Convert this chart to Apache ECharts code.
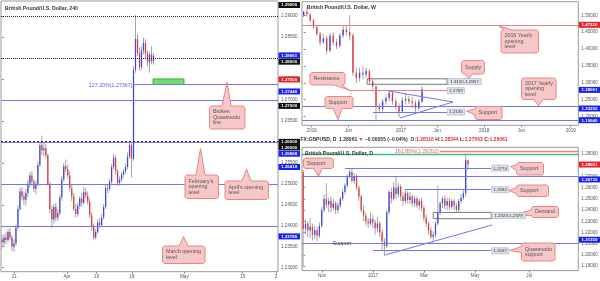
<!DOCTYPE html>
<html><head><meta charset="utf-8">
<script src="https://cdn.jsdelivr.net/npm/echarts@6/dist/echarts.min.js"></script>
<style>html,body{margin:0;padding:0;background:#fff}#c{width:600px;height:281px}</style>
</head><body><div id="c"></div><script>
// ---------- DATA ----------
// 4-hour candles [open, close, low, high]
const h4Candles = [
[1.2368,1.2360,1.2345,1.2378],[1.2360,1.2372,1.2350,1.2380],[1.2372,1.2366,1.2356,1.2385],[1.2366,1.2385,1.2360,1.2392],
[1.2385,1.2372,1.2365,1.2395],[1.2372,1.2350,1.2340,1.2378],[1.2350,1.2358,1.2338,1.2368],[1.2358,1.2395,1.2352,1.2402],
[1.2395,1.2440,1.2390,1.2448],[1.2440,1.2482,1.2435,1.2490],[1.2482,1.2470,1.2460,1.2492],[1.2470,1.2462,1.2450,1.2480],
[1.2462,1.2478,1.2448,1.2488],[1.2478,1.2500,1.2470,1.2510],[1.2500,1.2520,1.2490,1.2528],[1.2520,1.2505,1.2495,1.2530],
[1.2505,1.2488,1.2480,1.2512],[1.2488,1.2500,1.2475,1.2508],[1.2500,1.2545,1.2495,1.2552],[1.2545,1.2592,1.2540,1.2600],
[1.2592,1.2580,1.2568,1.2615],[1.2580,1.2585,1.2565,1.2598],[1.2585,1.2568,1.2560,1.2595],[1.2568,1.2500,1.2495,1.2572],
[1.2500,1.2440,1.2430,1.2505],[1.2440,1.2415,1.2395,1.2448],[1.2415,1.2445,1.2405,1.2452],[1.2445,1.2420,1.2410,1.2455],
[1.2420,1.2430,1.2412,1.2440],[1.2430,1.2468,1.2425,1.2475],[1.2468,1.2510,1.2460,1.2518],[1.2510,1.2542,1.2505,1.2550],
[1.2542,1.2535,1.2528,1.2558],[1.2535,1.2520,1.2512,1.2545],[1.2520,1.2490,1.2482,1.2530],[1.2490,1.2470,1.2458,1.2498],
[1.2470,1.2440,1.2435,1.2478],[1.2440,1.2428,1.2420,1.2452],[1.2428,1.2448,1.2422,1.2455],[1.2448,1.2465,1.2440,1.2470],
[1.2465,1.2455,1.2445,1.2478],[1.2455,1.2480,1.2450,1.2492],[1.2480,1.2472,1.2465,1.2490],[1.2472,1.2458,1.2450,1.2482],
[1.2458,1.2425,1.2418,1.2465],[1.2425,1.2398,1.2388,1.2432],[1.2398,1.2372,1.2365,1.2405],[1.2372,1.2385,1.2368,1.2392],
[1.2385,1.2408,1.2380,1.2415],[1.2408,1.2402,1.2395,1.2418],[1.2402,1.2420,1.2398,1.2428],[1.2420,1.2445,1.2415,1.2452],
[1.2445,1.2490,1.2440,1.2498],[1.2490,1.2488,1.2478,1.2500],[1.2488,1.2505,1.2482,1.2512],[1.2505,1.2540,1.2500,1.2548],
[1.2540,1.2562,1.2535,1.2572],[1.2562,1.2530,1.2522,1.2568],[1.2530,1.2502,1.2495,1.2535],[1.2502,1.2510,1.2496,1.2518],
[1.2510,1.2522,1.2505,1.2528],[1.2522,1.2530,1.2515,1.2536],[1.2530,1.2540,1.2525,1.2548],[1.2540,1.2565,1.2535,1.2575],
[1.2565,1.2592,1.2560,1.2600],[1.2592,1.2560,1.2515,1.2596],[1.2560,1.2772,1.2555,1.2780],[1.2772,1.2845,1.2765,1.2902],
[1.2845,1.2812,1.2805,1.2858],[1.2812,1.2778,1.2770,1.2825],[1.2778,1.2818,1.2772,1.2828],[1.2818,1.2836,1.2808,1.2848],
[1.2836,1.2810,1.2800,1.2845],[1.2810,1.2790,1.2780,1.2818],[1.2790,1.2808,1.2765,1.2815],[1.2808,1.2792,1.2785,1.2828],
[1.2792,1.2806,1.2784,1.2812]
];
const h4Slots = 139;
const h4TickPos = [6.2, 32.6, 47.5, 65.2, 91.5, 120.8, 137.5];
const h4TickText = ['21','Apr','10','18','May','15','2'];
const h4PriceTicks = [1.230,1.235,1.240,1.245,1.250,1.255,1.260,1.265,1.270,1.275,1.280,1.285,1.290];

// weekly chart, two weeks per candle [open, close, low, high]
const wCandles = [
[1.500,1.510,1.494,1.514],[1.510,1.502,1.496,1.523],[1.502,1.485,1.480,1.506],[1.485,1.465,1.460,1.489],
[1.465,1.445,1.438,1.468],[1.445,1.420,1.410,1.450],[1.420,1.432,1.415,1.445],[1.432,1.395,1.385,1.440],
[1.395,1.440,1.390,1.448],[1.440,1.420,1.410,1.450],[1.420,1.410,1.400,1.430],[1.410,1.440,1.405,1.448],
[1.440,1.458,1.432,1.468],[1.458,1.450,1.440,1.470],[1.450,1.440,1.425,1.500],[1.440,1.330,1.320,1.445],
[1.330,1.315,1.300,1.345],[1.315,1.330,1.305,1.345],[1.330,1.325,1.310,1.350],[1.325,1.335,1.315,1.345],
[1.335,1.305,1.295,1.340],[1.305,1.290,1.280,1.312],[1.290,1.230,1.185,1.292],[1.230,1.222,1.210,1.240],
[1.222,1.245,1.215,1.252],[1.245,1.255,1.235,1.265],[1.255,1.270,1.245,1.278],[1.270,1.245,1.235,1.275],
[1.245,1.230,1.220,1.255],[1.230,1.215,1.198,1.240],[1.215,1.248,1.210,1.258],[1.248,1.252,1.235,1.270],
[1.252,1.245,1.238,1.262],[1.245,1.240,1.225,1.258],[1.240,1.225,1.210,1.248],[1.225,1.245,1.218,1.252],
[1.245,1.281,1.240,1.290]
];
const wSlots = 84;
const wTickPos = [2.45, 13.6, 29.6, 40.6, 54.9, 66.2, 81.2];
const wTickText = ['2016','Jun','2017','Jun','2018','Jun','2019'];
const wPriceTicks = [1.20,1.25,1.30,1.35,1.40,1.45,1.50];

// daily chart, two sessions per candle [open, close, low, high]
const dCandles = [
[1.2740,1.2230,1.1900,1.2760],[1.2230,1.2280,1.2180,1.2320],[1.2280,1.2220,1.2160,1.2300],[1.2220,1.2250,1.2150,1.2330],
[1.2250,1.2180,1.2130,1.2280],[1.2180,1.2220,1.2140,1.2260],[1.2220,1.2170,1.2120,1.2250],[1.2170,1.2260,1.2150,1.2290],
[1.2260,1.2400,1.2240,1.2430],[1.2400,1.2500,1.2380,1.2540],[1.2500,1.2450,1.2420,1.2640],[1.2450,1.2480,1.2380,1.2510],
[1.2480,1.2420,1.2380,1.2520],[1.2420,1.2460,1.2400,1.2500],[1.2460,1.2400,1.2360,1.2480],[1.2400,1.2440,1.2370,1.2470],
[1.2440,1.2500,1.2420,1.2520],[1.2500,1.2560,1.2480,1.2590],[1.2560,1.2620,1.2540,1.2640],[1.2620,1.2700,1.2600,1.2720],
[1.2700,1.2740,1.2680,1.2760],[1.2740,1.2660,1.2640,1.2775],[1.2660,1.2700,1.2630,1.2730],[1.2700,1.2600,1.2580,1.2720],
[1.2600,1.2520,1.2480,1.2620],[1.2520,1.2400,1.2380,1.2540],[1.2400,1.2350,1.2300,1.2440],[1.2350,1.2300,1.2260,1.2380],
[1.2300,1.2280,1.2240,1.2330],[1.2280,1.2320,1.2260,1.2380],[1.2320,1.2290,1.2240,1.2360],[1.2290,1.2240,1.2180,1.2310],
[1.2240,1.2280,1.2200,1.2340],[1.2280,1.2200,1.2160,1.2300],[1.2200,1.2120,1.2040,1.2230],[1.2120,1.2080,1.1990,1.2150],
[1.2080,1.2380,1.2060,1.2400],[1.2380,1.2560,1.2360,1.2580],[1.2560,1.2500,1.2460,1.2600],[1.2500,1.2600,1.2480,1.2650],
[1.2600,1.2540,1.2500,1.2700],[1.2540,1.2610,1.2510,1.2640],[1.2610,1.2520,1.2480,1.2630],[1.2520,1.2480,1.2440,1.2560],
[1.2480,1.2550,1.2460,1.2580],[1.2550,1.2490,1.2460,1.2570],[1.2490,1.2520,1.2450,1.2560],[1.2520,1.2460,1.2430,1.2540],
[1.2460,1.2500,1.2430,1.2530],[1.2500,1.2440,1.2420,1.2520],[1.2440,1.2480,1.2400,1.2500],[1.2480,1.2420,1.2390,1.2510],
[1.2420,1.2330,1.2300,1.2440],[1.2330,1.2280,1.2250,1.2360],[1.2280,1.2220,1.2180,1.2300],[1.2220,1.2160,1.2140,1.2250],
[1.2160,1.2180,1.2110,1.2210],[1.2180,1.2280,1.2150,1.2300],[1.2280,1.2380,1.2260,1.2620],[1.2380,1.2460,1.2360,1.2480],
[1.2460,1.2500,1.2420,1.2520],[1.2500,1.2440,1.2410,1.2530],[1.2440,1.2480,1.2400,1.2510],[1.2480,1.2430,1.2400,1.2510],
[1.2430,1.2480,1.2410,1.2500],[1.2480,1.2440,1.2400,1.2500],[1.2440,1.2400,1.2380,1.2460],[1.2400,1.2480,1.2380,1.2500],
[1.2480,1.2510,1.2460,1.2540],[1.2510,1.2550,1.2490,1.2580],[1.2550,1.2845,1.2520,1.2905],[1.2845,1.2806,1.2760,1.2850]
];
const dSlots = 119;
const dTickPos = [8.1, 30.1, 52.1, 74.1, 97.4];
const dTickText = ['Nov','2017','Mar','May','Jul'];
const dPriceTicks = [1.19,1.20,1.21,1.22,1.23,1.24,1.25,1.26,1.27,1.28,1.29];

// ---------- STYLE ----------
const FONT = 'Liberation Sans';
const UP = '#3a45e6', DOWN = '#e5363f', WICK = '#a5a5a5';
const BLUE = '#6f76f0', RED = '#f07c7c', AXC = '#555';

const chart = echarts.init(document.getElementById('c'), null, {renderer: 'canvas'});

function makeRender(bodyRatio) {
  return function (params, api) {
    const x = api.value(0), o = api.value(1), c = api.value(2), l = api.value(3), h = api.value(4);
    const pt = api.coord([x, h]), pb = api.coord([x, l]), po = api.coord([x, o]), pc = api.coord([x, c]);
    const w = Math.max(1, api.size([1, 0])[0] * bodyRatio);
    const y0 = Math.min(po[1], pc[1]), hh = Math.max(1, Math.abs(po[1] - pc[1]));
    return {type: 'group', children: [
      {type: 'line', shape: {x1: pt[0], y1: pt[1], x2: pb[0], y2: pb[1]}, style: {stroke: WICK, lineWidth: 1}},
      {type: 'rect', shape: {x: pt[0] - w / 2, y: y0, width: w, height: hh}, style: {fill: c >= o ? UP : DOWN}}
    ]};
  };
}
function candleSeries(idx, rows, ratio, markLine, markArea) {
  return {type: 'custom', xAxisIndex: idx, yAxisIndex: idx, renderItem: makeRender(ratio), silent: true, clip: true,
    encode: {x: 0, y: [1, 2, 3, 4]}, data: rows.map((r, i) => [i, r[0], r[1], r[2], r[3]]), z: 3,
    markLine: {symbol: ['none', 'none'], silent: true, animation: false, label: {show: false}, data: markLine},
    markArea: {silent: true, animation: false, label: {show: false}, data: markArea || []}};
}
function yAxisCfg(g, min, max, ticks) {
  return {gridIndex: g, type: 'value', position: 'right', min, max, splitLine: {show: false}, axisLine: {show: false},
    axisTick: {show: true, length: 2, lineStyle: {color: '#888'}, customValues: ticks},
    axisLabel: {customValues: ticks, formatter: v => v.toFixed(5), fontSize: 4.6, color: AXC, margin: 3, fontFamily: FONT}};
}
function xAxisCfg(g, n, pos, txt) {
  return {gridIndex: g, type: 'value', min: -0.5, max: n - 0.5, splitLine: {show: false}, axisLine: {show: false},
    axisTick: {show: true, length: 2, lineStyle: {color: '#888'}, customValues: pos},
    axisLabel: {customValues: pos, fontSize: 4.6, color: AXC, margin: 3, fontFamily: FONT,
      formatter: v => { const i = pos.findIndex(p => Math.abs(p - v) < 1e-6); return i < 0 ? '' : txt[i]; }}};
}
const hl = (y, color, type, w) => ({yAxis: y, lineStyle: {color, type: type || 'solid', width: w || 1}});
const seg = (x1, y1, x2, y2, color, w) => [{coord: [x1, y1], lineStyle: {color, type: 'solid', width: w || 1}}, {coord: [x2, y2]}];

const h4Lines = [
  hl(1.29, '#222', 'dotted'), hl(1.28, '#222', 'dotted'), hl(1.27, '#222', 'dotted'), hl(1.26, '#222', 'dotted', 2),
  hl(1.275, '#e84040', 'dotted'), hl(1.2744, BLUE), seg(65.7, 1.27367, h4Slots - 0.5, 1.27367, BLUE),
  hl(1.25868, BLUE), hl(1.25418, BLUE), hl(1.2378, BLUE)
];
const h4Areas = [[{coord: [75.8, 1.2750], itemStyle: {color: '#72de72', borderColor: '#3fa83f', borderWidth: 1}}, {coord: [91.3, 1.27367]}]];

const wLines = [
  hl(1.4732, RED), hl(1.2329, BLUE), hl(1.1904, BLUE),
  seg(13.5, 1.2769, 43.6, 1.2769, RED), seg(21.1, 1.2135, 43.6, 1.2135, BLUE),
  seg(25.7, 1.2762, 45.45, 1.2433, BLUE), seg(29.3, 1.1960, 45.45, 1.2433, BLUE)
];
const wAreas = [[{coord: [19.3, 1.3120], itemStyle: {color: 'rgba(255,255,255,0.6)', borderColor: '#777', borderWidth: 1}}, {coord: [43.6, 1.2957]}]];

const dLines = [
  seg(59, 1.29202, dSlots - 0.5, 1.29202, RED, 1.3), hl(1.28706, '#3fbf8c', 'solid', 1.3),
  seg(18.0, 1.2774, 81.0, 1.2774, BLUE), hl(1.2673, BLUE), seg(43.9, 1.2582, 81.0, 1.2582, BLUE),
  hl(1.2135, BLUE), seg(30.1, 1.2037, 81.0, 1.2037, BLUE), seg(35.3, 1.1999, 81.4, 1.2267, BLUE)
];
const dAreas = [[{coord: [56.0, 1.2379], itemStyle: {color: 'rgba(255,255,255,0.6)', borderColor: '#777', borderWidth: 1}}, {coord: [81.0, 1.2323]}]];

const gridBase = {show: true, borderColor: '#9a9a9a', borderWidth: 1, containLabel: false, outerBoundsMode: 'none'};
chart.setOption({
  animation: false,
  backgroundColor: '#fff',
  grid: [
    Object.assign({left: 1, top: 1, width: 277, height: 270.7}, gridBase),
    Object.assign({left: 302, top: 1.7, width: 276.3, height: 123.6}, gridBase),
    Object.assign({left: 302, top: 147.3, width: 276.3, height: 123.3}, gridBase)
  ],
  xAxis: [xAxisCfg(0, h4Slots, h4TickPos, h4TickText), xAxisCfg(1, wSlots, wTickPos, wTickText), xAxisCfg(2, dSlots, dTickPos, dTickText)],
  yAxis: [yAxisCfg(0, 1.22905, 1.29358, h4PriceTicks), yAxisCfg(1, 1.17438, 1.54006, wPriceTicks), yAxisCfg(2, 1.18598, 1.29598, dPriceTicks)],
  series: [candleSeries(0, h4Candles, 0.62, h4Lines, h4Areas), candleSeries(1, wCandles, 0.42, wLines, wAreas), candleSeries(2, dCandles, 0.55, dLines, dAreas)]
});

// ---------- ANNOTATIONS ----------
// price tags on the right axes: [axis, price, text, color, offset]
const tags = [
  [0,1.29,'1.29000','#111',-11],[0,1.28061,'1.28061','#1a22f0',0],[0,1.28,'1.28000','#111',3.7],
  [0,1.275,'1.27500','#e8202a',0.5],[0,1.2744,'1.27440','#1a22f0',10],[0,1.27,'1.27000','#111',6],
  [0,1.26,'1.26000','#111',0],[0,1.26,'1.26000','#111',5.5],[0,1.25868,'1.25868','#1a22f0',6.3],
  [0,1.25418,'1.25418','#1a22f0',0.7],[0,1.2378,'1.23780','#1a22f0',1.4],
  [1,1.4732,'1.47320','#e8202a',0.5],[1,1.28061,'1.28061','#1a22f0',0.5],[1,1.2329,'1.23290','#1a22f0',3],[1,1.1904,'1.19040','#1a22f0',0.3],
  [2,1.28061,'1.28061','#e8202a',0],[2,1.2673,'1.26730','#1a22f0',0],[2,1.2135,'1.21350','#1a22f0',0]
];
// level boxes: [axis, x, price, text]
const levelBoxes = [
  [1,43.6,1.30385,'1.3120-1.2957'],[1,43.6,1.2769,'1.2769'],[1,43.6,1.2135,'1.2135'],
  [2,81.0,1.2774,'1.2774'],[2,81.0,1.2582,'1.2582'],[2,81.0,1.2351,'1.2323-1.2379'],[2,81.0,1.2037,'1.2037']
];
// callouts: [text, x0, y0, x1, y1, side, base1, base2, tipX, tipY]
const callouts = [
  ['Broken\nQuasimodo\nline', 209.5,106,245,129,'top',222,231,227,82],
  ["February's\nopening\nlevel", 185,175,218.5,198.5,'top',196,205,200.5,148.5],
  ["April's opening\nlevel", 225,181,268.5,199.5,'top',242,251,246.5,169],
  ['March opening\nlevel', 162.5,246,205,263.5,'top',179,188,183.5,236.5],
  ['Supply', 461.5,60.5,484.5,74,'bottom',465,472,469,79],
  ['Resistance', 310,72.5,345,85,'bottom',334,342,349,90],
  ['Support', 325,96.5,353,108.5,'bottom',333,342,338,119.5],
  ['Support', 475,106.5,502,119.5,'left',109,115,466.5,111],
  ['2016 Yearly\nopening\nlevel', 501,30,538.5,53,'top',504,512,499,26],
  ['2017 Yearly\nopening\nlevel', 521.5,78,556,99.5,'bottom',534,543,538.5,106],
  ['Support', 303.5,158,333.5,168.5,'bottom',314,322,318.5,176.5],
  ['Support', 516.5,162.5,543.5,175,'left',165,171,510.5,166.5],
  ['Support', 516.5,185,548.5,196.5,'left',187.5,193.5,508.5,190.5],
  ['Demand', 531.5,206.5,558.5,217.5,'left',210,215.5,509,216],
  ['Quasimodo\nsupport', 521.5,243,555,261,'left',246.5,252.5,509.5,250.5]
];
const titles = [['British Pound/U.S. Dollar, 240',5,8.3],['British Pound/U.S. Dollar, W',306.7,7.3],['British Pound/U.S. Dollar, D',305,154]];

function calloutPoints(c) {
  const [, x0, y0, x1, y1, side, b1, b2, tx, ty] = c, r = 1.6, p = [];
  p.push([x0 + r, y0]); if (side === 'top') p.push([b1, y0], [tx, ty], [b2, y0]);
  p.push([x1 - r, y0], [x1, y0 + r]); if (side === 'right') p.push([x1, b1], [tx, ty], [x1, b2]);
  p.push([x1, y1 - r], [x1 - r, y1]); if (side === 'bottom') p.push([b2, y1], [tx, ty], [b1, y1]);
  p.push([x0 + r, y1], [x0, y1 - r]); if (side === 'left') p.push([x0, b2], [tx, ty], [x0, b1]);
  p.push([x0, y0 + r]);
  return p;
}

const g = [];
callouts.forEach(c => {
  g.push({type: 'polygon', z: 50, shape: {points: calloutPoints(c)}, style: {fill: '#f7c6c6', stroke: '#e48888', lineWidth: 1}});
  g.push({type: 'text', z: 51, style: {text: c[0], x: c[1] + 3.5, y: (c[2] + c[4]) / 2, verticalAlign: 'middle', fill: '#555',
    fontSize: 5.3, lineHeight: 5.5, fontFamily: FONT}});
});
tags.forEach(t => {
  const y = chart.convertToPixel({yAxisIndex: t[0]}, t[1]) + t[4];
  const x = t[0] === 0 ? 278.5 : 578.8;
  g.push({type: 'rect', z: 60, shape: {x, y: y - 3, width: 21.5, height: 6}, style: {fill: t[3]}});
  g.push({type: 'text', z: 61, style: {text: t[2], x: x + 10.7, y: y + 0.2, align: 'center', verticalAlign: 'middle', fill: '#fff',
    fontSize: 4.4, fontWeight: 'bold', fontFamily: FONT}});
});
levelBoxes.forEach(b => {
  const p = chart.convertToPixel({gridIndex: b[0]}, [b[1], b[2]]);
  const w = b[3].length * 2.4 + 2.5;
  g.push({type: 'rect', z: 55, shape: {x: p[0] + 0.5, y: p[1] - 3, width: w, height: 6}, style: {fill: '#dde3ea', stroke: '#a8adb4', lineWidth: 0.6}});
  g.push({type: 'text', z: 56, style: {text: b[3], x: p[0] + 0.5 + w / 2, y: p[1] + 0.2, align: 'center', verticalAlign: 'middle',
    fill: '#333', fontSize: 4.4, fontFamily: FONT}});
});
const fibL = chart.convertToPixel({gridIndex: 0}, [65.7, 1.27367]);
g.push({type: 'text', z: 56, style: {text: '127.20%(1.27367)', x: fibL[0] - 0.5, y: fibL[1] + 0.8, align: 'right', verticalAlign: 'middle',
  fill: '#5b5bd8', fontSize: 5.3, fontFamily: FONT}});
const fibD = chart.convertToPixel({gridIndex: 2}, [59, 1.29202]);
g.push({type: 'text', z: 56, style: {text: '161.80%(1.29202)', x: fibD[0] - 1.5, y: fibD[1], align: 'right', verticalAlign: 'middle',
  fill: '#e06464', fontSize: 5.3, fontFamily: FONT}});
const supD = chart.convertToPixel({gridIndex: 2}, [12.7, 1.2135]);
g.push({type: 'text', z: 56, style: {text: 'Support', x: supD[0], y: supD[1] + 3.8, verticalAlign: 'middle', fill: '#444',
  fontSize: 5.3, fontFamily: FONT}});
titles.forEach(t => g.push({type: 'text', z: 56, style: {text: t[0], x: t[1], y: t[2], verticalAlign: 'middle', fill: '#333',
  fontSize: 5.2, fontWeight: 'bold', fontFamily: FONT}}));
g.push({type: 'text', z: 56, style: {x: 300.5, y: 139.5, verticalAlign: 'middle', fontFamily: FONT,
  text: '{d|FX:GBPUSD, D  1.28061 }{r|▼}{d| −0.00055 (−0.04%)  O:}{r|1.28116}{d| H:}{r|1.28344}{d| L:}{r|1.27563}{d| C:}{r|1.28061}',
  rich: {d: {fill: '#333', fontSize: 5, fontWeight: 'bold', fontFamily: FONT}, r: {fill: '#e0342e', fontSize: 5, fontWeight: 'bold', fontFamily: FONT}}}});

chart.setOption({graphic: {elements: g}});
</script></body></html>
